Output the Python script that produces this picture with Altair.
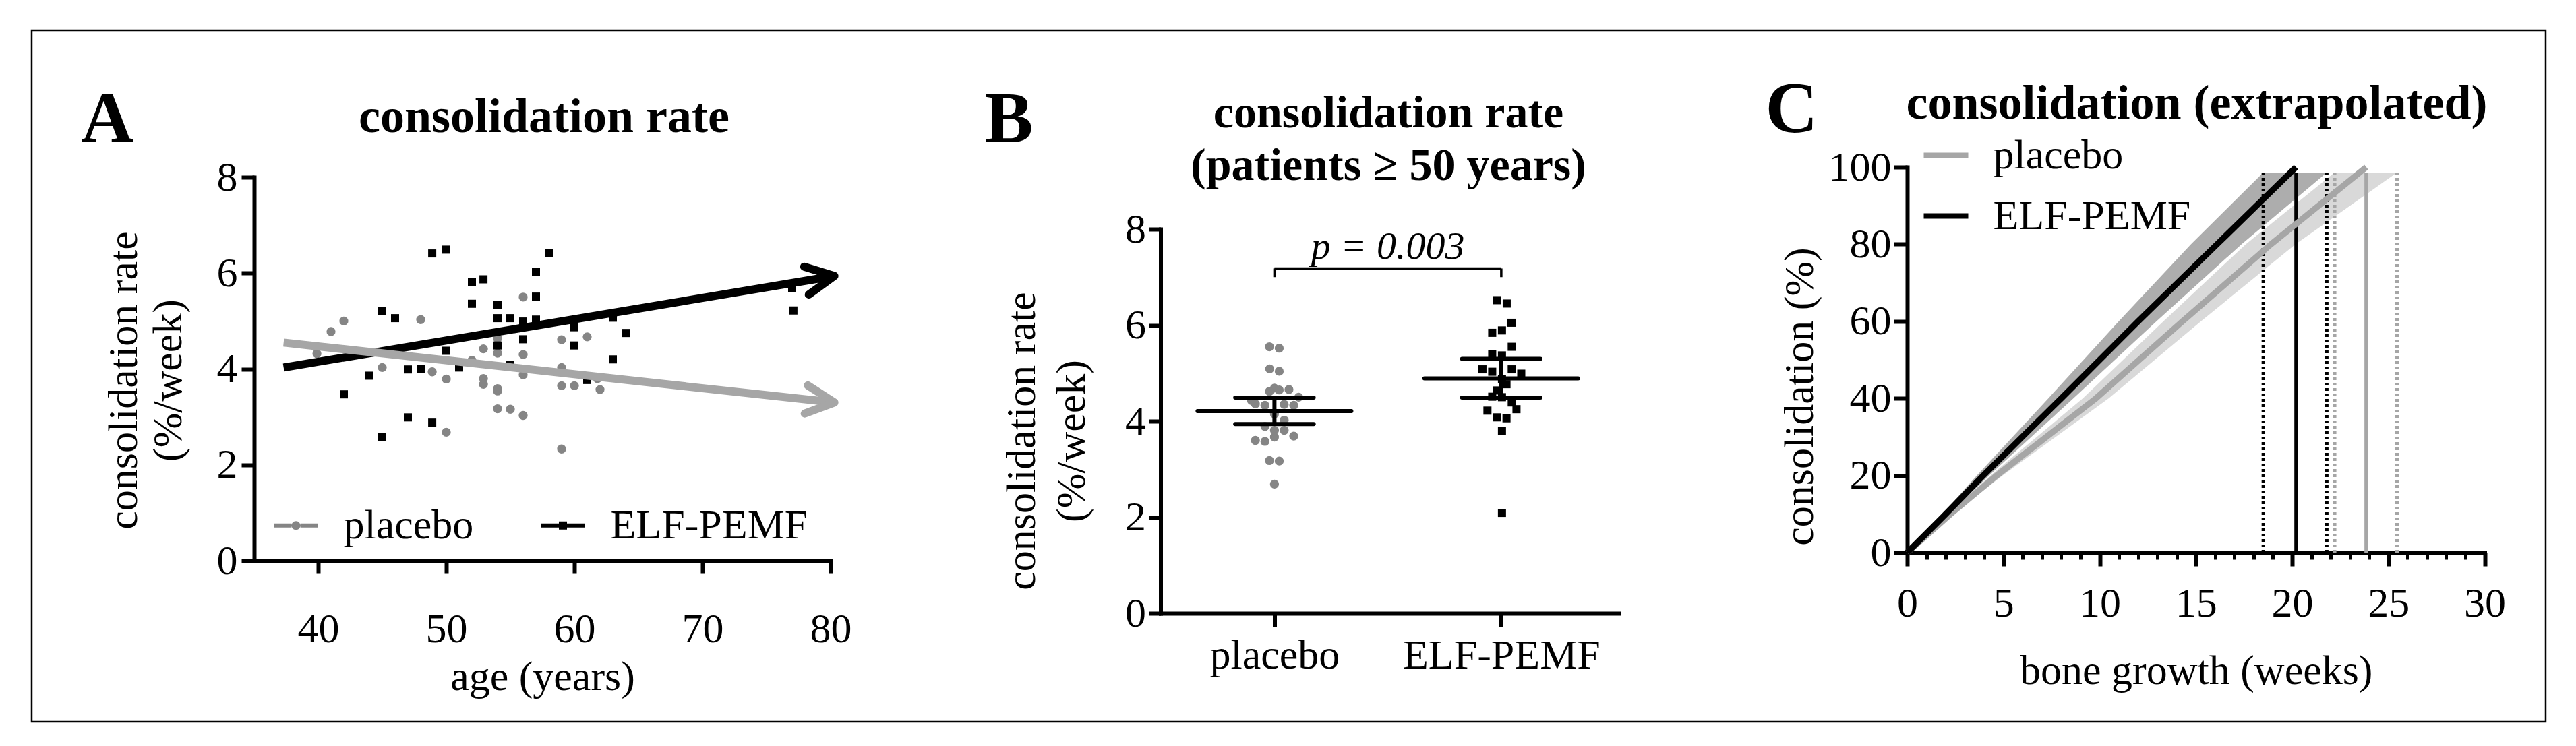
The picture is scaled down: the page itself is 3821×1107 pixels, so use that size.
import altair as alt
import pandas as pd

FONT = "Liberation Serif"
GRAY_PT = "#858585"
GRAY_LN = "#a6a6a6"
BLACK = "#000000"
GROUPS = ["placebo", "ELF-PEMF"]

# ---------------- Panel A: consolidation rate vs age ----------------
a_pla_age = [39.9, 41.0, 42.0, 48.0, 45.0, 48.9, 50.0, 50.0, 52.9, 54.0,
             54.0, 52.9, 52.9, 54.0, 54.0, 54.0, 55.0, 56.0, 56.0, 56.0,
             56.0, 59.0, 59.0, 59.0, 60.0, 61.0, 62.0, 59.0, 52.0, 61.8]
a_pla_rate = [4.32, 4.78, 5.00, 5.03, 4.03, 3.94, 3.79, 2.68, 4.42, 4.64,
              4.33, 3.80, 3.68, 3.59, 3.54, 3.17, 3.16, 3.03, 5.50, 4.30,
              3.88, 4.61, 4.03, 3.65, 3.65, 4.67, 3.57, 2.33, 4.18, 3.80]
a_elf_age = [48.9, 50.0, 58.0, 57.0, 52.0, 52.9, 57.0, 52.0, 54.0, 45.0,
             46.0, 54.0, 55.0, 56.0, 57.0, 63.0, 77.1, 77.0, 60.0, 64.0,
             56.0, 54.0, 60.0, 50.0, 55.0, 63.0, 51.0, 47.0, 48.0, 44.0,
             42.0, 61.0, 47.0, 48.9, 45.0]
a_elf_rate = [6.41, 6.49, 6.42, 6.03, 5.81, 5.87, 5.51, 5.36, 5.34, 5.21,
              5.06, 5.06, 5.06, 4.99, 5.03, 5.07, 5.22, 5.68, 4.87, 4.75,
              4.62, 4.49, 4.49, 4.38, 4.09, 4.20, 4.03, 3.99, 4.00, 3.86,
              3.47, 3.77, 2.99, 2.88, 2.58]
a_fit_age = [37.3, 80.3]
a_fit_pla = [4.55, 3.30]
a_fit_elf = [4.03, 5.94]

# ---------------- Panel B: patients >= 50 years ----------------
b_pla_rate = [5.55, 5.52, 5.09, 5.04, 4.69, 4.65, 4.62, 4.66, 4.50, 4.43,
              4.36, 4.33, 4.35, 4.33, 4.15, 4.02, 3.89, 3.81, 3.81, 3.67,
              3.69, 3.60, 3.58, 3.18, 3.17, 2.69]
b_pla_dx = [-0.022, 0.021, -0.021, 0.021, 0.0, 0.021, -0.022, 0.064, 0.107, -0.101,
            -0.084, -0.042, 0.043, 0.085, 0.0, 0.043, -0.042, 0.0, 0.043, 0.0,
            0.085, -0.084, -0.042, -0.022, 0.021, 0.0]
b_elf_rate = [6.52, 6.45, 6.05, 5.84, 5.89, 5.55, 5.40, 5.37, 5.08, 5.03,
              5.08, 4.99, 4.88, 4.77, 4.64, 4.51, 4.50, 4.39, 4.25, 4.22,
              4.08, 4.06, 3.80, 2.09]
b_elf_dx = [-0.018, 0.024, 0.045, -0.040, 0.003, 0.046, -0.040, 0.003, -0.083, -0.040,
            0.046, 0.088, 0.003, 0.023, -0.018, -0.040, 0.003, 0.046, 0.067, -0.061,
            -0.018, 0.023, 0.003, 0.003]
b_mean = [4.21, 4.89]
b_ci_lo = [3.94, 4.49]
b_ci_hi = [4.49, 5.30]
b_p_text = "p = 0.003"
b_p_y = 7.62
b_bracket_y = 7.18
b_bracket_low = 7.0

# ---------------- Panel C: extrapolated consolidation ----------------
c_pct = [0, 10, 20, 40, 60, 80, 100]
c_pla_wk = [0, 2.25, 4.65, 9.8, 14.3, 18.9, 23.85]
c_elf_wk = [0, 2.0, 3.95, 8.0, 12.0, 16.1, 20.2]
c_band_pct = [0, 10, 20, 40, 60, 80, 98.6]
c_elf_lo = [0, 1.83, 3.62, 7.33, 10.99, 14.74, 18.5]
c_elf_hi = [0, 2.16, 4.26, 8.63, 12.95, 17.37, 21.8]
c_pla_lo = [0, 2.09, 4.33, 9.12, 13.31, 17.59, 22.2]
c_pla_hi = [0, 2.40, 4.96, 10.46, 15.26, 20.17, 25.45]
c_vl_week = [18.5, 20.2, 21.8, 22.2, 23.85, 25.45]
c_vl_group = ["ELF-PEMF", "ELF-PEMF", "ELF-PEMF", "placebo", "placebo", "placebo"]
c_vl_kind = ["95% CI", "estimate", "95% CI", "95% CI", "estimate", "95% CI"]
c_vl_top = 98.6
c_minor_weeks = list(range(0, 31))


def axis(**kw):
    base = dict(domainColor=BLACK, domainWidth=6, domainCap="square", tickColor=BLACK, tickWidth=6,
                labelFont=FONT, labelFontSize=62, labelColor=BLACK, labelFlush=False,
                labelOverlap=False, labelLimit=1000, titleFont=FONT, titleFontSize=62,
                titleFontWeight="normal", titleColor=BLACK, titleLimit=2000, grid=False)
    base.update(kw)
    return alt.Axis(**base)


def text_layer(txt, x, y, size, weight="bold", style="normal", line_height=60):
    return alt.Chart(pd.DataFrame({"label": [txt]})).mark_text(
        font=FONT, fontSize=size, fontWeight=weight, fontStyle=style, align="center",
        baseline="alphabetic", color=BLACK, lineBreak="\n", lineHeight=line_height
    ).encode(x=alt.value(x), y=alt.value(y), text="label:N")


# ====================== Panel A ======================
dfA_pla = pd.DataFrame({"age": a_pla_age, "rate": a_pla_rate})
dfA_elf = pd.DataFrame({"age": a_elf_age, "rate": a_elf_rate})
dfA_fit_pla = pd.DataFrame({"age": a_fit_age, "rate": a_fit_pla})
dfA_fit_elf = pd.DataFrame({"age": a_fit_age, "rate": a_fit_elf})
dfA_tip_pla = pd.DataFrame({"age": [a_fit_age[-1]], "rate": [a_fit_pla[-1]]})
dfA_tip_elf = pd.DataFrame({"age": [a_fit_age[-1]], "rate": [a_fit_elf[-1]]})

scA_x = alt.Scale(domain=[35, 80], range=[0, 855])
scA_y = alt.Scale(domain=[0, 8], range=[631, 62])
axA_x = axis(values=[40, 50, 60, 70, 80], tickSize=19, labelPadding=52,
             title="age (years)", titleY=172, titleBaseline="middle")
axA_y = axis(values=[0, 2, 4, 6, 8], tickSize=19, labelPadding=6,
             title=["consolidation rate", "(%/week)"], titleX=-194, titleY=363,
             titleAngle=270, titleBaseline="middle", titleLineHeight=66)
xA = alt.X("age:Q", scale=scA_x, axis=axA_x)
yA = alt.Y("rate:Q", scale=scA_y, axis=axA_y)

CHEVRON = "M-2,-1L0,0L-2,1"
PATH_CIRCLE = ("M-1,-0.09H-0.2V0.09H-1Z M0.2,-0.09H1V0.09H0.2Z "
               "M0.2,0A0.2,0.2,0,1,1,-0.2,0A0.2,0.2,0,1,1,0.2,0Z")
PATH_SQUARE = ("M-1,-0.09H-0.185V0.09H-1Z M0.185,-0.09H1V0.09H0.185Z "
               "M-0.185,-0.185H0.185V0.185H-0.185Z")

frame = alt.Chart(pd.DataFrame({"label": ["frame"]})).mark_rect(
    fillOpacity=0, stroke=BLACK, strokeWidth=2.5
).encode(x=alt.value(-330), x2=alt.value(3399), y=alt.value(-156), y2=alt.value(870))

ptsA_pla = alt.Chart(dfA_pla).mark_circle(size=177, color=GRAY_PT, opacity=1).encode(x=xA, y=yA)
ptsA_elf = alt.Chart(dfA_elf).mark_square(size=144, color=BLACK, opacity=1).encode(x=xA, y=yA)
fitA_elf = alt.Chart(dfA_fit_elf).mark_line(color=BLACK, strokeWidth=12).encode(x=xA, y=yA)
fitA_pla = alt.Chart(dfA_fit_pla).mark_line(color=GRAY_LN, strokeWidth=12).encode(x=xA, y=yA)
tipA_elf = alt.Chart(dfA_tip_elf).mark_point(
    shape=CHEVRON, filled=False, size=1764, strokeWidth=12, color=BLACK, opacity=1,
    angle=350.6, strokeCap="round", strokeJoin="round").encode(x=xA, y=yA)
tipA_pla = alt.Chart(dfA_tip_pla).mark_point(
    shape=CHEVRON, filled=False, size=1764, strokeWidth=12, color=GRAY_LN, opacity=1,
    angle=6.2, strokeCap="round", strokeJoin="round").encode(x=xA, y=yA)

legA = alt.Legend(orient="none", legendX=29.5, legendY=546, direction="horizontal", title=None,
                  labelFont=FONT, labelFontSize=62, labelColor=BLACK, labelLimit=1000,
                  labelOffset=38, columnPadding=100, padding=0, symbolSize=4225,
                  symbolStrokeWidth=0, symbolOpacity=1)
legendA = alt.Chart(pd.DataFrame({"group": GROUPS})).mark_point(filled=True, opacity=0).encode(
    color=alt.Color("group:N", scale=alt.Scale(domain=GROUPS, range=[GRAY_PT, BLACK]), legend=legA),
    shape=alt.Shape("group:N", scale=alt.Scale(domain=GROUPS, range=[PATH_CIRCLE, PATH_SQUARE]), legend=legA),
)

panelA = alt.layer(
    frame,
    text_layer("A", -218, 10, 108),
    text_layer("consolidation rate", 430, -5, 72),
    ptsA_pla, ptsA_elf, fitA_elf, fitA_pla, tipA_elf, tipA_pla, legendA,
).properties(width=916.5, height=631)

# ====================== Panel B ======================
dfB_pla = pd.DataFrame({"xpos": [0 + d for d in b_pla_dx], "rate": b_pla_rate})
dfB_elf = pd.DataFrame({"xpos": [1 + d for d in b_elf_dx], "rate": b_elf_rate})
MEAN_HALF = 0.339
CI_HALF = 0.173
dfB_stat = pd.DataFrame({"xpos": [0, 1], "rate": b_mean, "lo": b_ci_lo, "hi": b_ci_hi})
dfB_stat["m0"] = dfB_stat["xpos"] - MEAN_HALF
dfB_stat["m1"] = dfB_stat["xpos"] + MEAN_HALF
dfB_stat["c0"] = dfB_stat["xpos"] - CI_HALF
dfB_stat["c1"] = dfB_stat["xpos"] + CI_HALF

scB_x = alt.Scale(domain=[-0.502, 1.519], range=[0, 680])
scB_y = alt.Scale(domain=[0, 8], range=[709, 139])
axB_x = axis(values=[0, 1], tickSize=20, labelPadding=12, title=None,
             labelExpr="datum.value == 0 ? 'placebo' : 'ELF-PEMF'")
axB_y = axis(values=[0, 2, 4, 6, 8], tickSize=18, labelPadding=4,
             title=["consolidation rate", "(%/week)"], titleX=-206, titleY=453,
             titleAngle=270, titleBaseline="middle", titleLineHeight=74)


def xb(f):
    return alt.X(f + ":Q", scale=scB_x, axis=axB_x)


def yb(f):
    return alt.Y(f + ":Q", scale=scB_y, axis=axB_y)


ptsB_pla = alt.Chart(dfB_pla).mark_circle(size=177, color=GRAY_PT, opacity=1).encode(x=xb("xpos"), y=yb("rate"))
ptsB_elf = alt.Chart(dfB_elf).mark_square(size=144, color=BLACK, opacity=1).encode(x=xb("xpos"), y=yb("rate"))
statB = alt.Chart(dfB_stat)
meanB = statB.mark_rule(color=BLACK, strokeWidth=6, strokeCap="round").encode(
    x=xb("m0"), x2="m1:Q", y=yb("rate"))
loB = statB.mark_rule(color=BLACK, strokeWidth=6, strokeCap="round").encode(
    x=xb("c0"), x2="c1:Q", y=yb("lo"))
hiB = statB.mark_rule(color=BLACK, strokeWidth=6, strokeCap="round").encode(
    x=xb("c0"), x2="c1:Q", y=yb("hi"))
vertB = statB.mark_rule(color=BLACK, strokeWidth=6).encode(x=xb("xpos"), y=yb("lo"), y2="hi:Q")

dfB_br_h = pd.DataFrame({"x0": [0], "x1": [1], "yb": [b_bracket_y]})
dfB_br_v = pd.DataFrame({"xpos": [0, 1], "y0": [b_bracket_low] * 2, "y1": [b_bracket_y] * 2})
brH = alt.Chart(dfB_br_h).mark_rule(color=BLACK, strokeWidth=3.5).encode(x=xb("x0"), x2="x1:Q", y=yb("yb"))
brV = alt.Chart(dfB_br_v).mark_rule(color=BLACK, strokeWidth=3.5).encode(x=xb("xpos"), y=yb("y0"), y2="y1:Q")
pText = alt.Chart(pd.DataFrame({"xpos": [0.5], "rate": [b_p_y], "label": [b_p_text]})).mark_text(
    font=FONT, fontSize=58, fontStyle="italic", color=BLACK, baseline="middle", align="center"
).encode(x=xb("xpos"), y=yb("rate"), text="label:N")

panelB = alt.layer(
    text_layer("B", -225, 10, 108),
    text_layer("consolidation rate", 338, -12, 68),
    text_layer("(patients \u2265 50 years)", 338, 66, 68),
    ptsB_pla, ptsB_elf, meanB, loB, hiB, vertB, brH, brV, pText,
).properties(width=680, height=709)

# ====================== Panel C ======================
dfC_lines = pd.DataFrame({
    "week": c_pla_wk + c_elf_wk,
    "pct": c_pct + c_pct,
    "group": ["placebo"] * len(c_pct) + ["ELF-PEMF"] * len(c_pct),
})
dfC_band_elf = pd.DataFrame({"pct": c_band_pct, "lo": c_elf_lo, "hi": c_elf_hi})
dfC_band_pla = pd.DataFrame({"pct": c_band_pct, "lo": c_pla_lo, "hi": c_pla_hi})
dfC_vl = pd.DataFrame({"week": c_vl_week, "group": c_vl_group, "kind": c_vl_kind,
                       "pct": [0] * len(c_vl_week), "y1": [c_vl_top] * len(c_vl_week)})

scC_x = alt.Scale(domain=[0, 30], range=[0, 856.5])
scC_y = alt.Scale(domain=[0, 100], range=[619, 47])
axC_x = axis(values=[0, 5, 10, 15, 20, 25, 30], tickSize=20, labelPadding=25, orient="bottom",
             title="bone growth (weeks)", titleY=175, titleBaseline="middle")
axC_minor = alt.Axis(values=c_minor_weeks, orient="bottom", labels=False, domain=False,
                     tickSize=10, tickWidth=5, tickColor=BLACK, grid=False, title=None)
axC_y = axis(values=[0, 20, 40, 60, 80, 100], tickSize=20, labelPadding=4,
             title="consolidation (%)", titleX=-159.5, titleY=387,
             titleAngle=270, titleBaseline="middle")


def xc(f, ax=None):
    if ax is None:
        return alt.X(f + ":Q", scale=scC_x, axis=None)
    return alt.X(f + ":Q", scale=scC_x, axis=ax)


yC = alt.Y("pct:Q", scale=scC_y, axis=axC_y)

bandC_pla = alt.Chart(dfC_band_pla).mark_area(orient="horizontal", color="#9a9a9a", opacity=0.38).encode(
    x=xc("lo"), x2="hi:Q", y=yC)
bandC_elf = alt.Chart(dfC_band_elf).mark_area(orient="horizontal", color="#000000", opacity=0.32).encode(
    x=xc("lo"), x2="hi:Q", y=yC)
dashScale = alt.Scale(domain=["estimate", "95% CI"], range=[[1, 0], [4, 4]])
vlC_elf = alt.Chart(dfC_vl).transform_filter(alt.datum.group == "ELF-PEMF").mark_rule(
    color=BLACK, strokeWidth=5).encode(
    x=xc("week", axC_minor), y=yC, y2="y1:Q",
    strokeDash=alt.StrokeDash("kind:N", scale=dashScale, legend=None))
vlC_pla = alt.Chart(dfC_vl).transform_filter(alt.datum.group == "placebo").mark_rule(
    color=GRAY_LN, strokeWidth=5.5).encode(
    x=xc("week"), y=yC, y2="y1:Q",
    strokeDash=alt.StrokeDash("kind:N", scale=dashScale, legend=None))
legC = alt.Legend(orient="none", legendX=20.5, legendY=-7.5, direction="vertical", title=None,
                  symbolType="stroke", symbolSize=4356, symbolStrokeWidth=8, labelFont=FONT,
                  labelFontSize=62, labelColor=BLACK, labelLimit=1000, labelOffset=33,
                  rowPadding=22, padding=0, symbolOpacity=1)
linesC = alt.Chart(dfC_lines).mark_line(strokeWidth=9).encode(
    x=xc("week", axC_x), y=yC,
    color=alt.Color("group:N", scale=alt.Scale(domain=GROUPS, range=[GRAY_LN, BLACK]), legend=legC),
    order="pct:Q")

panelC = alt.layer(
    text_layer("C", -171.5, -5, 108),
    text_layer("consolidation (extrapolated)", 429.5, -25, 72),
    bandC_pla, bandC_elf, vlC_elf, vlC_pla, linesC,
).resolve_axis(x="independent").properties(width=856.5, height=619)

chart = alt.hconcat(panelA, panelB, panelC, spacing=427.5, bounds="flush").resolve_scale(
    color="independent", shape="independent", strokeDash="independent"
).properties(
    padding={"left": 37, "top": 35, "right": 8, "bottom": 8}, background="white"
).configure(font=FONT).configure_view(strokeWidth=0)

chart.save("out.html", embed_options={"renderer": "svg", "actions": False})
